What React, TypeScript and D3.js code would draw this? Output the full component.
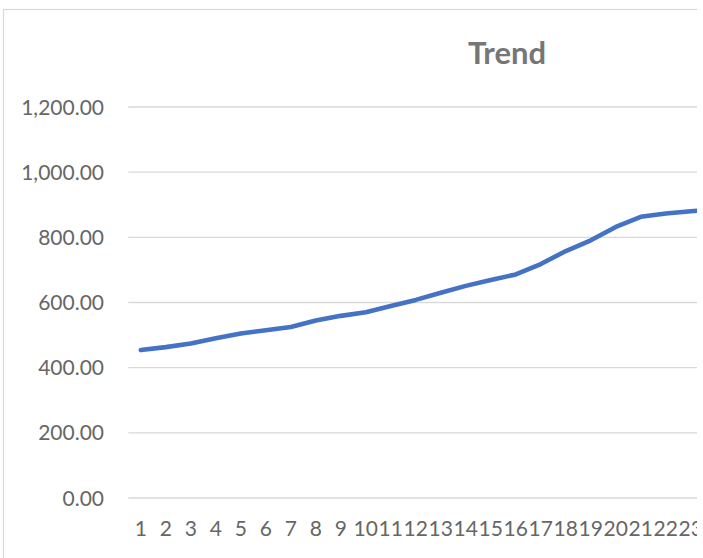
import React from "react";
import * as d3 from "d3";

const categories: string[] = Array.from({ length: 24 }, (_, i) => String(i + 1));
const values: number[] = [
  454, 463, 474, 490, 505, 515, 525, 545, 559, 570, 589, 608,
  630, 651, 669, 686, 718, 758, 791, 832, 863, 873, 880, 886,
];
const yTicks: number[] = [0, 200, 400, 600, 800, 1000, 1200];
const title = "Trend";

export default function App() {
  const W = 703;
  const H = 558;
  const clipW = 697;
  const plotLeft = 128.3;
  const band = 25;
  const x = d3
    .scaleBand<string>()
    .domain(categories)
    .range([plotLeft, plotLeft + band * categories.length]);
  const y = d3.scaleLinear().domain([0, 1200]).range([498, 107]);
  const fmt = d3.format(",.2f");
  const line = d3
    .line<number>()
    .x((_, i) => (x(categories[i]) as number) + x.bandwidth() / 2)
    .y((d) => y(d));
  const font = "Lato, 'Open Sans', sans-serif";
  return (
    <svg
      width={W}
      height={H}
      style={{ position: "absolute", left: 0, top: 0, background: "#fff" }}
    >
      <defs>
        <clipPath id="crop">
          <rect x={0} y={0} width={clipW} height={H} />
        </clipPath>
      </defs>
      <g clipPath="url(#crop)">
        <rect x={3.5} y={9.5} width={900} height={700} fill="#fff" stroke="#d9d9d9" strokeWidth={1.2} />
        <text
          x={507}
          y={63.5}
          textAnchor="middle"
          fontFamily={font}
          fontWeight={700}
          fontSize={31}
          fill="#767676"
        >
          {title}
        </text>
        {yTicks.map((t) => (
          <g key={t}>
            <line
              x1={plotLeft}
              x2={900}
              y1={y(t)}
              y2={y(t)}
              stroke="#d9d9d9"
              strokeWidth={1.3}
            />
            <text
              x={104}
              y={y(t)}
              dy="0.36em"
              textAnchor="end"
              fontFamily={font}
              fontSize={21}
              fill="#666"
            >
              {fmt(t)}
            </text>
          </g>
        ))}
        {categories.map((c) => (
          <text
            key={c}
            x={(x(c) as number) + x.bandwidth() / 2}
            y={536}
            textAnchor="middle"
            fontFamily={font}
            fontSize={21}
            fill="#666"
          >
            {c}
          </text>
        ))}
        <path
          d={line(values) || ""}
          fill="none"
          stroke="#4472C4"
          strokeWidth={4.6}
          strokeLinejoin="round"
          strokeLinecap="round"
        />
      </g>
    </svg>
  );
}
